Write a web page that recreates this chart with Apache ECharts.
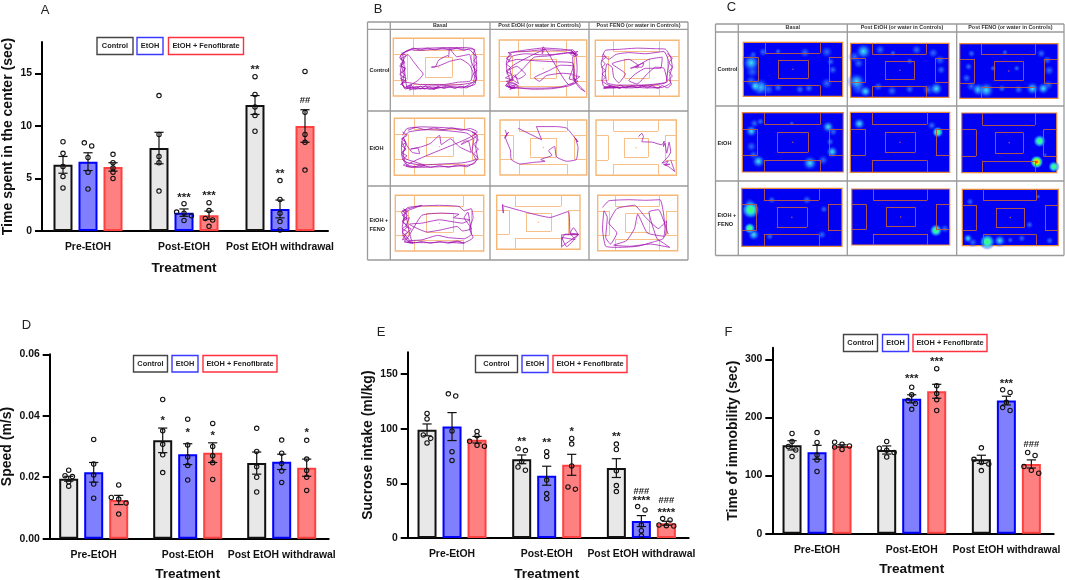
<!DOCTYPE html>
<html><head><meta charset="utf-8">
<style>html,body{margin:0;padding:0;background:#fff}#c{width:1065px;height:580px}</style>
<script src="https://cdn.jsdelivr.net/npm/echarts@6/dist/echarts.min.js"></script>
</head><body><div id="c"></div>
<script>
// ---------- shared labels ----------
const phases = ['Pre-EtOH','Post-EtOH','Post EtOH withdrawal'];
const groups = ['Control','EtOH','EtOH + Fenofibrate'];
const colHeads = ['Basal','Post EtOH (or water in Controls)','Post FENO (or water in Controls)'];
const rowHeads = ['Control','EtOH','EtOH +\nFENO'];

// ---------- panel A: time in the centre ----------
const aMean = [[6.3,6.6,6.1],[7.9,1.75,1.5],[12,2.1,10]];
const aSem  = [[0.8,0.85,0.4],[1.5,0.35,0.4],[0.9,0.85,1.55]];
const aPts  = [[[8.5,7.4,6.15,5.2,4.1],[8.4,8.1,7,5.6,4],[7.3,6.5,6,5.6,5]],
               [[12.9,9.2,7.1,6.5,3.8],[2.6,1.8,1.7,1.45,1],[2.7,1.95,1.2,1.05,0.45]],
               [[14.7,13,11.8,11,9.5],[4.8,3,1.7,0.9,0.1],[15.2,11.3,9.2,8.45,5.8]]];
const aNotes = [[1,1,'***',3.35],[1,2,'***',3.5],[2,0,'**',15.5],[2,1,'**',5.6],[2,2,'##',12.45]];

// ---------- panel D: speed ----------
const dMean = [[0.0195,0.0216,0.0126],[0.032,0.0275,0.028],[0.0246,0.025,0.0231]];
const dSem  = [[0.0008,0.0032,0.0015],[0.004,0.0034,0.0032],[0.0036,0.0025,0.0028]];
const dPts  = [[[0.0223,0.0205,0.0202,0.0185,0.0171],[0.0323,0.0243,0.0207,0.0178,0.0132],[0.0175,0.0134,0.0129,0.0116,0.008]],
               [[0.0453,0.0351,0.0307,0.0273,0.0215],[0.0389,0.0305,0.0266,0.0238,0.0191],[0.0375,0.03,0.027,0.0247,0.0193]],
               [[0.0359,0.0284,0.0234,0.02,0.0152],[0.0321,0.0278,0.0245,0.022,0.0183],[0.032,0.0259,0.0222,0.02,0.0157]]];
const dNotes = [[1,0,'*',0.0389],[1,1,'*',0.035],[1,2,'*',0.034],[2,2,'*',0.0352]];

// ---------- panel E: sucrose intake ----------
const eMean = [[99,102,90],[72,57,67],[64,15.5,13.5]];
const eSem  = [[5.4,12.8,3],[4,8.7,9.6],[8.6,5,1.8]];
const ePts  = [[[114,109,94.3,91.2,87],[132,130,98,79,71],[97.6,93.7,88.5,84.8,84]],
               [[81.7,80,70,65,62],[79,74.7,53,40.7,36],[91.2,86,66,46.8,44.7]],
               [[86,81,61.5,48,42.5],[28.8,25.7,12,6.7,2],[17.8,16.5,12,11.3,11]]];
const eNotes = [[1,0,'**',90],[1,1,'**',88.8],[1,2,'*',98.6],[2,0,'**',94],[2,1,'****',35.5],[2,1,'###',43],[2,2,'****',24.5],[2,2,'###',34]];

// ---------- panel F: immobility ----------
const fMean = [[152,140,151],[144,232,245],[128,229,120]];
const fSem  = [[8,12,2],[7,7,12],[7,7.5,7]];
const fPts  = [[[172.4,158.6,150,144,132.8],[174,157,135.6,127,107],[157.5,154,151,149,145]],
               [[158.6,147,143.7,139.6,132],[252,239,229,224,214],[284,254.6,241,230.5,212]],
               [[147.7,128,122.4,120,108.6],[247.7,243,226,217,212],[139.7,134.5,115.5,109,104]]];
const fNotes = [[1,1,'***',269.5],[1,2,'***',299.4],[2,1,'***',261],[2,2,'###',153]];

// ---------- panel B: tracks, % of each arena (x, y from the top-left corner) ----------
const track11 = [10,30,14,22,22,18,40,17,60,16,78,16,88,18,91,30,92,50,91,70,90,80,80,84,60,85,40,86,22,88,12,85,9,72,8,55,10,40,8,30,12,24,20,20,30,21,45,19,70,18,84,20,89,28,89,45,90,62,88,76,75,80,55,82,35,83,20,85,13,88,10,78,12,62,9,48,12,35,16,28,22,40,28,52,33,62,28,72,20,80,14,84,24,86,44,88,60,83,76,86,86,78,92,72,90,56,86,40,84,28,70,32,62,18,61,32,60,30,50,38,46,50,42,50,50,48,62,40,74,36,84,46,88,60,85,74,72,76,56,80,30,80,12,76,8,80,14,70,7,62,13,55,8,44,12,40,7,34,10,26,15,84,20,80,18,90,26,84,30,88,36,82,40,88,50,84,44,89];
const track12 = [9,60,8,40,10,30,14,22,28,18,50,14,72,16,84,20,88,30,89,50,88,68,84,75,70,82,50,84,30,84,14,82,8,78,14,74,20,78,10,82,18,84,7,80,12,70,9,55,20,46,30,60,22,68,16,62,12,72,26,52,40,30,55,28,78,22,86,24,82,18,88,26,80,22,84,28,90,20,72,24,50,26,30,24,15,28,10,38,20,34,40,36,62,38,84,40,86,60,72,58,54,62,46,72,40,66,56,54,70,44,85,46,80,68,85,70,92,84,98,90,88,74,84,66,90,72,80,78,50,12,49,24,52,16,12,50,16,70,22,76,18,60];
const track13 = [8,30,12,18,30,16,50,14,72,15,84,16,90,30,92,48,89,62,90,76,80,84,60,85,40,83,22,85,10,82,8,70,9,55,7,42,10,28,16,34,25,25,40,22,60,24,82,20,88,40,86,60,84,76,66,80,46,80,26,80,14,76,12,58,14,42,20,48,22,66,28,76,36,60,20,42,40,34,52,46,42,50,58,40,56,48,48,48,64,34,80,30,78,50,60,50,48,60,40,72,50,78,62,60,72,48,82,50,86,74,10,86,20,82,30,86,16,80,24,84,44,85,62,82,76,86];
const track21 = [9,30,14,18,30,15,50,16,70,18,84,22,92,32,90,50,92,68,88,80,70,84,50,85,30,86,14,82,9,70,8,50,9,36,16,24,36,20,60,22,80,26,88,36,86,58,90,72,76,78,54,80,30,82,12,76,10,60,13,44,10,34,14,48,20,60,28,62,26,52,18,54,30,50,40,44,50,30,52,46,62,36,72,50,85,60,82,40,78,40,74,46,92,30,86,24,90,26,13,84,24,86,34,83,14,72,8,64,12,54,8,40];
const track22 = [6,18,8,28,5,33,10,22,6,30,12,55,13,72,23,80,39,77,52,75,47,72,60,64,56,56,63,48,65,67,77,75,88,72,90,50,87,33,90,40,77,15,65,12,42,12,48,36,21,15];
const track23 = [53,30,57,24,59,30,57,39,70,40,82,45,85,38,84,48,86,42,87,52,88,60,91,40,93,58,90,66,82,78,90,74,86,82,92,80,84,80,90,84,98,93,93,72];
const track31 = [9,30,14,22,30,19,50,18,72,20,78,28,86,24,88,40,84,60,88,76,76,86,56,84,36,85,16,84,9,74,8,56,10,40,7,30,12,26,9,44,16,40,12,56,18,60,12,70,8,80,14,76,30,36,52,32,72,34,66,40,84,44,76,50,50,44,30,50,16,52,36,66,52,62,70,56,76,64,86,60,78,40,82,30,86,70,78,78,60,76,48,72,30,80,14,82,20,86,10,84];
const track32 = [7,16,8,33,7,19,64,41,86,30,88,70,92,60,98,73,78,73,78,95,98,73,84,95,78,78,94,82,88,70,98,72,82,72,78,82];
const track33 = [6,22,14,10,40,8,60,9,78,8,82,30,84,60,82,78,70,84,50,92,26,94,10,92,6,60,8,28,12,40,10,76,16,88,24,68,14,50,24,24,46,18,60,40,76,60,86,46,84,74,62,68,50,34,46,60,36,82,20,90,40,92,66,88,90,94,82,86,74,78,64,30,76,26,88,70];
const trackCells = [track11,track12,track13,track21,track22,track23,track31,track32,track33];

// Heavily walked stretches along the walls of the busier arenas
const dense11 = [9,25,14,30,8,36,13,42,7,48,14,52,9,58,13,64,8,70,14,74,9,80,15,86,20,82,24,88,30,83,34,88,40,84,44,88,50,84,56,87,62,84,68,87,74,83,80,86,86,82,90,76,92,68,88,62,92,56,88,50,92,44,89,38,92,32,88,26,90,20,84,18,78,21,70,17,62,20,54,17,46,20,38,17,30,20,22,17,16,22,10,26];
const dense12 = [8,80,14,84,10,76,18,82,12,86,22,80,8,72,16,70,7,66,14,60,8,54,13,48,8,42,12,36,8,32,14,26,10,22,30,20,50,17,70,18,84,17,88,24,82,22,90,26,84,30,86,70,92,64,84,62,88,74,80,80,60,85,40,86,22,84,12,84];
const dense13 = [9,24,13,30,8,36,12,42,8,48,12,54,8,60,12,66,8,72,13,78,18,82,10,84,24,84,30,80,36,85,44,81,50,85,56,81,62,85,68,81,74,85,80,81,86,85,91,78,88,70,92,64,88,56,92,48,88,40,92,32,86,24];
const dense21 = [9,24,14,30,8,36,13,42,8,48,13,54,8,60,14,66,9,72,14,78,10,82,20,86,30,82,40,86,50,83,60,86,70,82,80,85,88,78,93,70,88,62,93,54,88,46,93,38,88,30,92,24,84,18,74,21,64,17,54,20,44,17,34,20,24,16,15,21];
const dense31 = [9,24,14,30,8,36,13,42,8,48,13,54,8,60,14,66,9,72,14,78,10,82,18,86,14,76,8,66,14,56,8,46,14,36,8,28,20,22,30,18,20,24,12,30,20,86,30,83,40,86,50,83,60,86,70,83,78,86,70,82,60,85];
const denseCells = [dense11,dense12,dense13,dense21,[],[],dense31,[],[]];

// Arena wall drawing, % of each arena
const wallSegments = [[22,0,22,20],[22,20,77,20],[77,20,77,0],[0,28,15,28],[15,28,15,72],[15,72,0,72],
  [100,28,86,28],[86,28,86,72],[86,72,100,72],[22,100,22,80],[22,80,77,80],[77,80,77,100],
  [35,33,65,33],[65,33,65,67],[65,67,35,67],[35,67,35,33]];

// ---------- panel C: occupancy spots [x%, y%, diameter, level 1..4] ----------
const spots11 = [[8,38,13,2],[9,54,10,1],[8,72,9,1],[17,83,13,2],[12,81,9,2],[25,87,9,1],[35,84,7,1],[57,87,7,1],[66,85,7,1],[84,76,9,1],[90,51,7,1],[88,36,6,1],[84,18,9,1],[62,19,8,1],[35,17,5,1],[20,18,7,1],[10,23,6,1]];
const spots12 = [[13,15,12,2],[4,25,9,1],[8,37,8,1],[6,71,13,2],[8,83,11,1],[15,89,9,2],[28,80,7,1],[42,88,8,1],[60,85,7,1],[87,84,10,2],[79,86,9,1],[92,49,7,1],[91,31,8,1],[84,18,8,1],[67,12,8,1],[30,12,8,1],[43,18,5,1],[60,33,5,1]];
const spots13 = [[12,18,6,1],[9,42,6,1],[7,63,7,1],[12,78,8,1],[19,84,10,2],[27,85,12,2],[43,82,6,1],[60,84,7,1],[74,82,10,2],[85,82,9,2],[90,76,8,1],[91,49,8,1],[89,30,7,1],[83,18,7,1],[46,16,5,1],[34,45,5,1],[58,45,5,1]];
const spots21 = [[9,31,9,2],[12,18,7,1],[18,15,6,1],[9,57,8,1],[11,71,7,1],[16,82,10,2],[67,85,11,2],[80,80,8,1],[89,66,9,2],[87,49,6,1],[90,32,7,1],[85,24,9,2],[49,18,4,1]];
const spots22 = [[9,19,9,2],[82,22,7,1],[88,33,8,3]];
const spots23 = [[82,47,9,3],[79,82,9,4],[97,90,8,3],[88,70,3,1]];
const spots31 = [[9,37,13,3],[8,69,8,3],[12,80,9,2],[30,20,6,1],[65,20,7,1],[82,36,6,1],[80,80,7,1],[28,83,6,1],[8,26,8,1]];
const spots32 = [[86,74,9,3],[95,71,7,1]];
const spots33 = [[26,93,11,3],[8,22,6,1],[6,87,7,2],[11,94,7,1],[39,91,9,2],[62,87,6,1],[70,63,6,1],[91,91,6,1],[79,13,4,1],[50,90,5,1]];
const spotCells = [spots11,spots12,spots13,spots21,spots22,spots23,spots31,spots32,spots33];

// ---------- layout ----------
const FONT = '"Liberation Sans",Arial,sans-serif';
const fills = ['#e8e8e8','#8080ff','#ff8080'];
const edges = ['#111111','#0000ff','#ff4040'];
const boxEdges = ['#444444','#3a3aff','#ff3040'];

const barPanels = [
 {mean:aMean,sem:aSem,pts:aPts,notes:aNotes,max:18,step:5,ticks:[0,5,10,15],dec:0,name:'Time spent in the center (sec)',
  l:40,r:328,t:42,b:231,off:2,gapX:30,lblM:11.5,nameGap:27,
  box:[[97,37.5,36,17],[137,37.5,26,17],[168.5,37.5,75,17]]},
 {mean:dMean,sem:dSem,pts:dPts,notes:dNotes,max:0.06,step:0.02,ticks:[0,0.02,0.04,0.06],dec:2,name:'Speed (m/s)',
  l:46.7,r:328.7,t:354.3,b:538.7,off:3,gapX:29,lblM:11.5,nameGap:36,
  box:[[133.5,355.5,34,16.5],[172,355.5,26,16.5],[203,355.5,74,16.5]]},
 {mean:eMean,sem:eSem,pts:ePts,notes:eNotes,max:170,step:50,ticks:[0,50,100,150],dec:0,name:'Sucrose intake (ml/kg)',
  l:404.7,r:688.7,t:352.3,b:538,off:3,gapX:29,lblM:11.5,nameGap:33,
  box:[[475.5,355.5,42,17],[522,355.5,26,17],[553,355.5,74,17]]},
 {mean:fMean,sem:fSem,pts:fPts,notes:fNotes,max:320,step:100,ticks:[0,100,200,300],dec:0,name:'Time of immobility (sec)',
  l:769.7,r:1053.7,t:347.7,b:533.7,off:2.6,gapX:29,lblM:11.5,nameGap:32.6,
  box:[[843.5,334.5,34,17],[882.5,334.5,26,17],[913,334.5,74,17]]}
];
const trackRects = [[393.3,38.3,484,96],[499.3,40,586.7,97.3],[595.3,40.3,679,96.3],
 [394.3,118.3,484.7,175.3],[500,120,586.7,175],[596,120,676.3,175.3],
 [395.3,195.3,483.7,251],[496.7,195.3,580,249.3],[597.7,195.3,677.7,250.7]];
const heatRects = [[743.3,42.3,842.7,96.3],[850.7,43.3,949,97.3],[959.7,43.7,1058,98.3],
 [742.3,112.7,843.3,172],[850.3,112.3,949.7,172.3],[961.7,113,1056.7,172.7],
 [741.7,188.3,842,246.3],[851.7,189,949.7,245],[962.3,189.3,1058.3,245.7]];

const grid=[],xAxis=[],yAxis=[],series=[],graphic=[];
const SPACING=25, DOT=2.2;

// place points of one bar: tied points split sideways, as the source swarm does
function swarm(vals,pxPerUnit){
  const step=7.4, out=[], s=vals.slice().sort((a,b)=>b-a);
  let i=0;
  while(i<s.length){
    let j=i+1;
    while(j<s.length && (s[j-1]-s[j])*pxPerUnit<4.2) j++;
    const n=j-i;
    for(let k=0;k<n;k++){
      let dx=0;
      if(n===2) dx=(k-0.5)*step;
      else if(n>=3) dx=((k%3)-1)*step;
      out.push([dx,s[i+k]]);
    }
    i=j;
  }
  return out;
}

barPanels.forEach((p,pi)=>{
  const g=grid.length;
  grid.push({left:p.l,top:p.t,width:p.r-p.l,height:p.b-p.t,containLabel:false,outerBoundsMode:'none'});
  xAxis.push({gridIndex:g,type:'category',data:phases,
    axisLine:{lineStyle:{color:'#000',width:2}},
    axisTick:{alignWithLabel:true,length:9,lineStyle:{color:'#000',width:2}},
    axisLabel:{interval:0,color:'#111',fontFamily:FONT,fontWeight:'bold',fontSize:10.4,margin:p.lblM},
    name:'Treatment',nameLocation:'middle',nameGap:p.gapX,nameMoveOverlap:false,
    nameTextStyle:{color:'#111',fontFamily:FONT,fontWeight:'bold',fontSize:13.6}});
  yAxis.push({gridIndex:g,type:'value',min:0,max:p.max,interval:p.step,offset:-p.off,splitLine:{show:false},
    axisLine:{show:true,lineStyle:{color:'#000',width:2}},
    axisTick:{show:true,length:7,customValues:p.ticks,lineStyle:{color:'#000',width:2}},
    axisLabel:{customValues:p.ticks,color:'#111',fontFamily:FONT,fontWeight:'bold',fontSize:10.4,margin:10,
      formatter:v=>Number(v).toFixed(p.dec)},
    name:p.name,nameLocation:'middle',nameGap:p.nameGap,nameRotate:90,nameMoveOverlap:false,
    nameTextStyle:{color:'#111',fontFamily:FONT,fontWeight:'bold',fontSize:14}});
  groups.forEach((gn,b)=>{
    series.push({type:'bar',name:gn,xAxisIndex:g,yAxisIndex:g,barWidth:19,barGap:'31.6%',
      data:p.mean.map(r=>r[b]),
      itemStyle:{color:fills[b],borderColor:edges[b],borderWidth:2},silent:true,z:2});
  });
  const rows=[];
  p.mean.forEach((r,c)=>r.forEach((m,b)=>rows.push([c,m,b,p.sem[c][b]])));
  const ppu=(p.b-p.t)/p.max;
  series.push({type:'custom',xAxisIndex:g,yAxisIndex:g,clip:false,z:5,silent:true,data:rows,encode:{x:0,y:1},
    renderItem(params,api){
      const c=api.value(0),m=api.value(1),b=api.value(2),e=api.value(3);
      const cx=api.coord([c,0])[0]+(b-1)*SPACING;
      const yHi=api.coord([c,m+e])[1],yLo=api.coord([c,m-e])[1];
      const ln={stroke:'#111',lineWidth:1.2};
      const kids=[
        {type:'line',shape:{x1:cx,y1:yHi,x2:cx,y2:yLo},style:ln},
        {type:'line',shape:{x1:cx-4.6,y1:yHi,x2:cx+4.6,y2:yHi},style:ln},
        {type:'line',shape:{x1:cx-4.6,y1:yLo,x2:cx+4.6,y2:yLo},style:ln}];
      swarm(p.pts[c][b],ppu).forEach(([dx,v])=>{
        kids.push({type:'circle',shape:{cx:cx+dx,cy:api.coord([c,v])[1],r:DOT},style:{fill:'rgba(255,255,255,0)',stroke:'#111',lineWidth:1.1}});
      });
      p.notes.filter(n=>n[0]===c&&n[1]===b).forEach(n=>{
        const star=n[2][0]==='*';
        kids.push({type:'text',x:cx,y:api.coord([c,n[3]])[1]+(star?2:0),
          style:{text:n[2],fill:'#222',font:'bold '+(star?11.5:9.5)+'px '+FONT,align:'center',verticalAlign:'middle'}});
      });
      return {type:'group',children:kids};
    }});
  p.box.forEach((q,i)=>{
    graphic.push({type:'rect',shape:{x:q[0],y:q[1],width:q[2],height:q[3]},style:{fill:'#fff',stroke:boxEdges[i],lineWidth:1.4},z:20});
    graphic.push({type:'text',x:q[0]+q[2]/2,y:q[1]+q[3]/2,z:21,
      style:{text:groups[i],fill:'#222',font:'bold 7.4px '+FONT,align:'center',verticalAlign:'middle'}});
  });
});

function addCell(rect,gridOpt){
  const g=grid.length;
  grid.push(Object.assign({left:rect[0],top:rect[1],width:rect[2]-rect[0],height:rect[3]-rect[1],show:true,outerBoundsMode:'none'},gridOpt));
  xAxis.push({gridIndex:g,type:'value',min:0,max:100,show:false});
  yAxis.push({gridIndex:g,type:'value',min:0,max:100,inverse:true,show:false});
  return g;
}
const wallData=wallSegments.map(s=>({coords:[[s[0],s[1]],[s[2],s[3]]]}));
const pairs=a=>{const o=[];for(let i=0;i<a.length;i+=2)o.push([a[i],a[i+1]]);return o;};

trackRects.forEach((r,i)=>{
  const g=addCell(r,{backgroundColor:'#fff',borderColor:'#f6b777',borderWidth:1.4});
  series.push({type:'lines',coordinateSystem:'cartesian2d',xAxisIndex:g,yAxisIndex:g,silent:true,z:2,
    data:wallData,lineStyle:{color:'#f7c08a',width:1,opacity:1}});
  series.push({type:'scatter',xAxisIndex:g,yAxisIndex:g,data:[[50,50]],symbolSize:1.5,itemStyle:{color:'#f2a860'},silent:true,z:2});
  [trackCells[i],denseCells[i]].forEach(t=>{
    if(!t.length) return;
    series.push({type:'line',xAxisIndex:g,yAxisIndex:g,data:pairs(t),showSymbol:false,clip:false,silent:true,z:3,smooth:0.15,
      lineStyle:{color:'#a010b0',width:0.9,opacity:0.85}});
  });
});
const spotColors=[null,
 [[0,'rgba(70,160,255,0.7)'],[0.5,'rgba(40,100,250,0.45)'],[1,'rgba(0,0,240,0)']],
 [[0,'rgba(70,245,240,0.95)'],[0.4,'rgba(50,170,255,0.7)'],[1,'rgba(0,0,240,0)']],
 [[0,'#40ff60'],[0.35,'#30f0c0'],[0.65,'rgba(40,170,255,0.7)'],[1,'rgba(0,0,240,0)']],
 [[0,'#ff1000'],[0.28,'#ffe000'],[0.5,'#40ff60'],[0.75,'rgba(40,190,255,0.7)'],[1,'rgba(0,0,240,0)']]];
heatRects.forEach((r,i)=>{
  const g=addCell(r,{backgroundColor:'#0000f2',borderColor:'#e8883a',borderWidth:1.2});
  [1,2,3,4].forEach(level=>{
    const d=spotCells[i].filter(s=>s[3]===level);
    if(!d.length) return;
    series.push({type:'scatter',xAxisIndex:g,yAxisIndex:g,silent:true,z:2+level*0.01,clip:true,
      data:d.map(s=>[s[0],s[1],s[2]]),symbolSize:v=>v[2]*1.5,
      itemStyle:{opacity:1,color:{type:'radial',x:0.5,y:0.5,r:0.5,colorStops:spotColors[level].map(c=>({offset:c[0],color:c[1]}))}}});
  });
  series.push({type:'lines',coordinateSystem:'cartesian2d',xAxisIndex:g,yAxisIndex:g,silent:true,z:3,
    data:wallData,lineStyle:{color:'#b4584a',width:1,opacity:0.95}});
  series.push({type:'scatter',xAxisIndex:g,yAxisIndex:g,data:[[50,50]],symbolSize:1.5,itemStyle:{color:'#ff7040'},silent:true,z:3});
});

// ---------- table frames ----------
function frame(xs,ys,hy){
  const st={stroke:'#9a9a9a',lineWidth:1.3};
  xs.forEach(x=>graphic.push({type:'line',shape:{x1:x,y1:ys[0],x2:x,y2:ys[ys.length-1]},style:st}));
  ys.forEach(y=>graphic.push({type:'line',shape:{x1:xs[0],y1:y,x2:xs[xs.length-1],y2:y},style:st}));
  graphic.push({type:'line',shape:{x1:xs[0],y1:hy,x2:xs[xs.length-1],y2:hy},style:st});
  colHeads.forEach((t,i)=>graphic.push({type:'text',x:(xs[i+1]+xs[i+2])/2,y:(ys[0]+hy)/2,
    style:{text:t,fill:'#333',font:'bold 5.4px '+FONT,align:'center',verticalAlign:'middle'}}));
  rowHeads.forEach((t,i)=>graphic.push({type:'text',x:xs[0]+2,y:(ys[i+1]+(i==0?hy:ys[i]))/2+(i==2?1.5:0),
    style:{text:t,fill:'#222',font:'bold 5.6px '+FONT,align:'left',verticalAlign:'middle',lineHeight:9}}));
}
frame([367.5,390.3,490,589,688],[22,111,186,260],29.3);
frame([715.5,738.3,847.3,956.7,1064],[24,106,181,255.5],32);

[['A',45,10],['B',378,9.5],['C',731.5,7.5],['D',26.5,325.5],['E',381,332.5],['F',728.5,332]].forEach(a=>{
  graphic.push({type:'text',x:a[1],y:a[2],style:{text:a[0],fill:'#222',font:'13px '+FONT,align:'center',verticalAlign:'middle'}});
});

const chart=echarts.init(document.getElementById('c'),null,{renderer:'canvas'});
chart.setOption({animation:false,backgroundColor:'#fff',grid,xAxis,yAxis,series,graphic:{elements:graphic}});
</script></body></html>
